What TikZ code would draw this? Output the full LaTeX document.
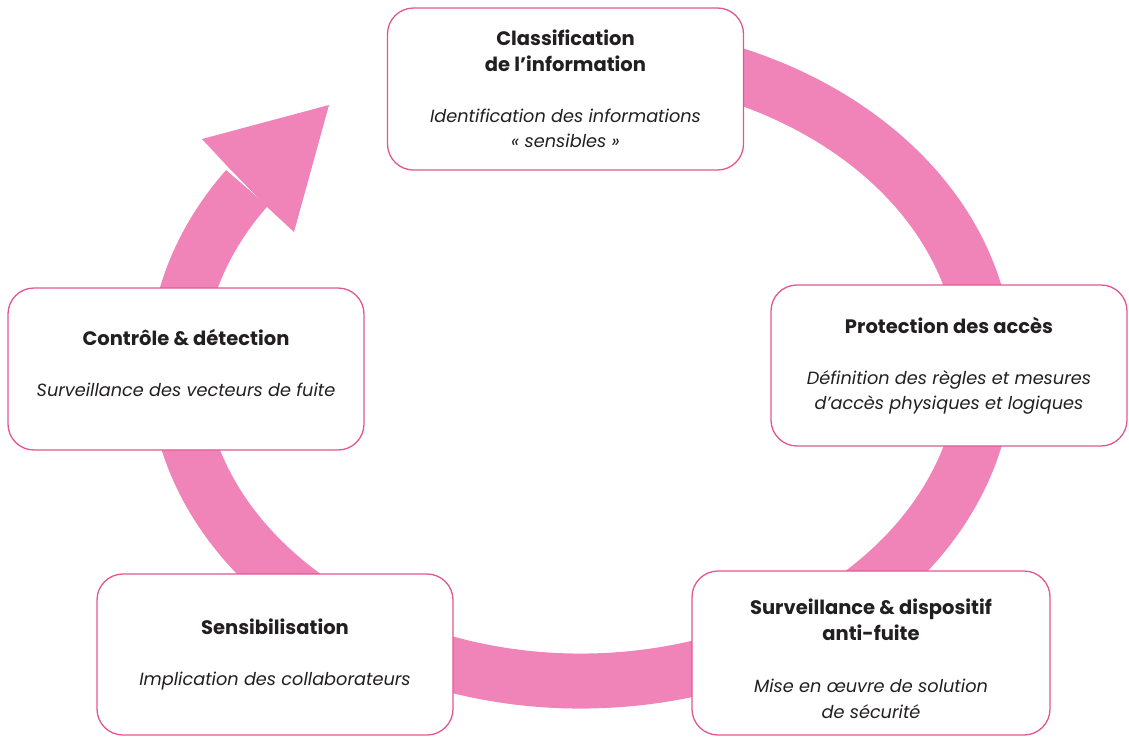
\documentclass[tikz,border=0pt]{standalone}
\usepackage{fontspec}
\setmainfont{Poppins}
\definecolor{ring}{RGB}{240,132,184}
\definecolor{edge}{RGB}{226,86,146}
\definecolor{ink}{RGB}{35,31,32}
\tikzset{
  stage/.style={draw=edge, line width=1.3pt, fill=white, rounded corners=26pt,
    minimum width=#1, align=center, text=ink, font=\fontsize{17.7}{25.5}\selectfont,
    inner sep=0pt},
  stage/.default={356pt},
  band/.style={draw=ring, line width=55pt, line cap=butt},
  head/.style={fill=ring, draw=none}
}
\newcommand{\ttl}[1]{{\fontsize{19.5}{25.5}\selectfont\bfseries #1}}
\begin{document}
\begin{tikzpicture}[x=1pt,y=1pt]
\useasboundingbox (0,0) rectangle (1129,-737);
\coordinate (ctr) at (581,-366);
% ring
\draw[band] (ctr) ++(100:405 and 315) arc[start angle=100, end angle=-214.4, x radius=405, y radius=315];
% arrow head
\coordinate (tip) at (329,-105);
\coordinate (lb) at (202,-139);
\coordinate (ln) at (228,-167);
\coordinate (rn) at (266,-206);
\coordinate (rb) at (294,-232);
\fill[head] (tip) -- (lb) -- (ln) -- (rn) -- (rb) -- cycle;
% boxes
\node[stage, minimum height=162pt] (cls) at (565.5,-89)
  {\ttl{Classification}\\ \ttl{de l’information}\\[25.5pt] \textit{Identification des informations}\\ \textit{« sensibles »}};
\node[stage, minimum height=161pt] (prot) at (949,-365.5)
  {\ttl{Protection des accès}\\[25.5pt] \textit{Définition des règles et mesures}\\ \textit{d’accès physiques et logiques}};
\node[stage=358pt, minimum height=164pt] (surv) at (871,-653)
  {\rule{0pt}{27pt}\ttl{Surveillance \& dispositif}\\ \ttl{anti-fuite}\\[27pt] \textit{Mise en œuvre de solution}\\ \textit{de sécurité}};
\node[stage, minimum height=161pt] (sens) at (275,-654.5)
  {\ttl{Sensibilisation}\\[25.5pt] \textit{Implication des collaborateurs}};
\node[stage, minimum height=162pt] (ctrl) at (186,-369)
  {\ttl{Contrôle \& détection}\\[25.5pt] \textit{Surveillance des vecteurs de fuite}\\[-13.5pt]\mbox{}};
\end{tikzpicture}
\end{document}
